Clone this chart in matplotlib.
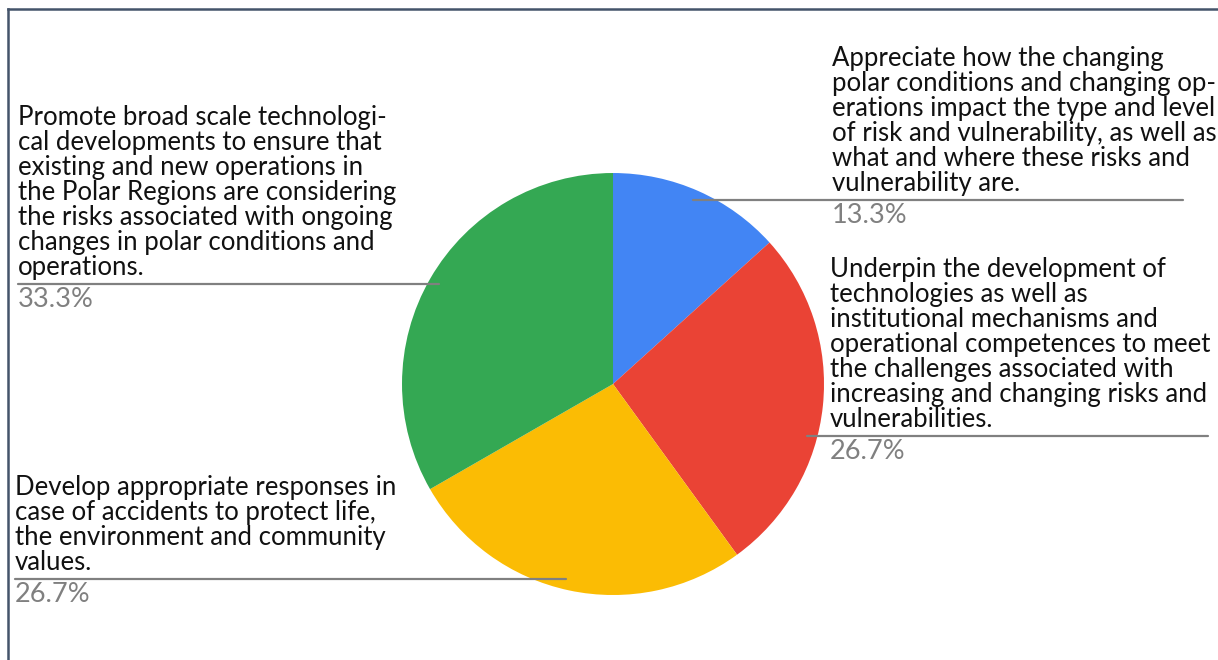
import numpy as np
import matplotlib
matplotlib.use("Agg")
import matplotlib.pyplot as plt
from matplotlib.lines import Line2D

# data
labels = [
    "Appreciate how the changing\npolar conditions and changing op-\nerations impact the type and level\nof risk and vulnerability, as well as\nwhat and where these risks and\nvulnerability are.",
    "Underpin the development of\ntechnologies as well as\ninstitutional mechanisms and\noperational competences to meet\nthe challenges associated with\nincreasing and changing risks and\nvulnerabilities.",
    "Develop appropriate responses in\ncase of accidents to protect life,\nthe environment and community\nvalues.",
    "Promote broad scale technologi-\ncal developments to ensure that\nexisting and new operations in\nthe Polar Regions are considering\nthe risks associated with ongoing\nchanges in polar conditions and\noperations.",
]
values = [13.3, 26.7, 26.7, 33.3]
colors = ["#4285f4", "#ea4335", "#fbbc04", "#34a853"]

# label layout (data units, pie radius = 1)
label_y = [0.872, -0.246, -0.924, 0.474]
line_end = [2.701, 2.820, -2.834, -2.820]
text_x = [1.038, 1.028, -2.834, -2.820]

plt.rcParams['font.family'] = ['Lato', 'DejaVu Sans']

fig = plt.figure(figsize=(12.18, 6.6), dpi=100)
ax = fig.add_axes([0, 0, 1, 1])
wedges, _ = ax.pie(values, colors=colors, startangle=90, counterclock=False,
                   radius=1, center=(0, 0))
ax.set_xlim(-2.905, 2.867)
ax.set_ylim(-1.308, 1.820)
ax.axis("off")

r_anchor = 0.95
for i, w in enumerate(wedges):
    y = label_y[i]
    side = 1 if line_end[i] > 0 else -1
    x0 = side * np.sqrt(max(r_anchor**2 - y**2, 0))
    ax.plot([x0, line_end[i]], [y, y], color="#808080", lw=1.6,
            solid_capstyle="round", zorder=3)
    ax.text(text_x[i], y + 0.02, labels[i], ha="left", va="bottom",
            fontsize=18.5, color="#111111", linespacing=1.0)
    ax.text(text_x[i], y - 0.015, f"{values[i]:.1f}%", ha="left", va="top",
            fontsize=19.5, color="#808080")

# frame lines at top and left
fig.add_artist(Line2D([8/1218, 8/1218], [0, 1 - 9/660], color="#44546a", lw=1.8))
fig.add_artist(Line2D([8/1218, 1], [1 - 9/660, 1 - 9/660], color="#44546a", lw=1.8))

fig.savefig("out.png", dpi=100)
